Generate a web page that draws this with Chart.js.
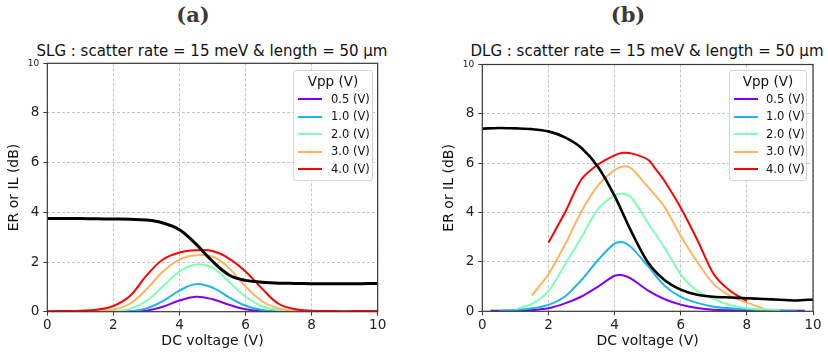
<!DOCTYPE html>
<html><head><meta charset="utf-8">
<script src="https://cdn.jsdelivr.net/npm/chart.js@4.4.1/dist/chart.umd.min.js"></script>
<style>
html,body{margin:0;padding:0;background:#fff;}
#wrap{position:relative;width:828px;height:357px;overflow:hidden;font-family:"DejaVu Sans",sans-serif;}
.panel{position:absolute;top:0;width:414px;height:357px;}
canvas{display:block;}
.plabel{position:absolute;top:2px;font-family:"DejaVu Serif",serif;font-weight:bold;font-size:21px;color:#3a3a3a;transform:translateX(-50%);white-space:nowrap;}
.ptitle{position:absolute;top:42px;font-size:15px;color:#111;transform:translateX(-50%);white-space:nowrap;}
.legend{position:absolute;top:70px;height:111px;background:rgba(255,255,255,0.85);border:1px solid #d4d4d4;border-radius:3px;box-sizing:border-box;color:#111;}
.legend .lt{position:absolute;left:0;right:0;top:2px;text-align:center;font-size:13.5px;line-height:17px;}
.legend .row{position:absolute;left:0;height:17px;font-size:11.5px;line-height:17px;white-space:nowrap;}
.legend .sw{position:absolute;top:7.5px;height:2px;width:24px;}
.legend .tx{position:absolute;top:0;}
</style>
</head><body>
<div id="wrap">
  <div class="plabel" style="left:193px">(a)</div>
  <div class="plabel" style="left:628px">(b)</div>
  <div class="ptitle" style="left:212px">SLG : scatter rate = 15 meV &amp; length = 50 µm</div>
  <div class="ptitle" style="left:647px">DLG : scatter rate = 15 meV &amp; length = 50 µm</div>
  <div class="panel" style="left:0"><canvas id="ca" width="414" height="357"></canvas></div>
  <div class="panel" style="left:414px"><canvas id="cb" width="414" height="357"></canvas></div>
  <div class="legend" id="la" style="left:293px;width:80px"></div>
  <div class="legend" id="lb" style="left:729px;width:78px"></div>
</div>
<script>
// ---------- data ----------
const legendTitle = 'Vpp (V)';
const vppLabels = ['0.5 (V)', '1.0 (V)', '2.0 (V)', '3.0 (V)', '4.0 (V)'];
const vppColors = ['#8000ff', '#1cb4eb', '#80ffb4', '#ffb360', '#ff0000'];
const xTickValues = [0, 2, 4, 6, 8, 10];
const yTickValues = [0, 2, 4, 6, 8, 10];
const xAxisTitle = 'DC voltage (V)';
const yAxisTitle = 'ER or IL (dB)';

// (a) SLG  (all series sampled at the same DC voltages)
const aX      = [0, 0.5, 1, 1.5, 2, 2.5, 3, 3.5, 4, 4.5, 5, 5.5, 6, 6.5, 7, 7.5, 8, 8.5, 9, 9.5, 10];
const aBlackY = [3.75,3.75,3.75,3.74,3.73,3.72,3.69,3.57,3.30,2.72,2.03,1.48,1.26,1.19,1.15,1.14,1.13,1.13,1.13,1.13,1.14];
const aV05Y   = [0,0,0,0,0,0,0.04,0.20,0.45,0.60,0.50,0.28,0.10,0.03,0.01,0,0,0,0,0,0];
const aV10Y   = [0,0,0,0,0,0.02,0.13,0.43,0.85,1.11,0.97,0.58,0.24,0.07,0.02,0,0,0,0,0,0];
const aV20Y   = [0,0,0,0,0.02,0.11,0.43,1.02,1.62,1.90,1.76,1.20,0.60,0.22,0.06,0.02,0.01,0,0,0,0];
const aV30Y   = [0,0,0.01,0.03,0.08,0.32,0.90,1.62,2.10,2.27,2.22,1.75,1.02,0.42,0.13,0.04,0.01,0,0,0,0];
const aV40Y   = [0.02,0.03,0.04,0.08,0.23,0.63,1.45,2.10,2.38,2.47,2.44,2.14,1.62,0.93,0.32,0.10,0.04,0.03,0.02,0.03,0.03];

// (b) DLG
const bBlackX = [0,0.5,1,1.5,2,2.5,3,3.5,4,4.5,5,5.5,6,6.5,7,7.5,8,8.5,9,9.5,10];
const bBlackY = [7.40,7.43,7.41,7.38,7.29,7.05,6.62,5.85,4.68,3.25,2.00,1.28,0.88,0.67,0.59,0.56,0.53,0.50,0.47,0.44,0.48];
const bV05X = [0.25,0.5,1,1.5,2,2.5,3,3.5,4,4.25,4.5,5,5.5,6,6.5,7,7.5,8,9,9.75];
const bV05Y = [0.03,0.02,0.02,0.05,0.12,0.32,0.60,1.00,1.44,1.46,1.32,0.85,0.50,0.27,0.13,0.06,0.04,0.03,0.02,0.02];
const bV10X = [0.5,1,1.5,2,2.5,3,3.5,4,4.25,4.5,5,5.5,6,6.5,7,7.5,8,8.5,9,9.5];
const bV10Y = [0.02,0.05,0.12,0.26,0.60,1.27,2.08,2.74,2.80,2.60,1.85,1.05,0.58,0.34,0.18,0.12,0.08,0.05,0.03,0.02];
const bV20X = [1,1.5,2,2.5,3,3.5,4,4.25,4.5,5,5.5,6,6.5,7,7.5,8,8.5,9];
const bV20Y = [0.08,0.30,0.82,1.90,3.00,4.15,4.70,4.76,4.62,3.60,2.60,1.50,0.82,0.50,0.25,0.12,0.08,0.05];
const bV30X = [1.5,2,2.5,3,3.5,4,4.25,4.5,5,5.5,6,6.5,7,7.5,8,8.5];
const bV30Y = [0.65,1.50,2.70,4.05,5.10,5.72,5.87,5.80,5.05,4.25,3.05,2.00,1.10,0.62,0.35,0.12];
const bV40X = [2,2.5,3,3.5,4,4.25,4.5,5,5.25,5.5,6,6.5,7,7.5,8];
const bV40Y = [2.78,4.00,5.35,5.95,6.32,6.42,6.40,6.15,5.75,5.30,4.20,2.90,1.50,0.82,0.42];

// ---------- helpers ----------
const pts = (xs, ys) => xs.map((x, i) => ({x: x, y: ys[i]}));

function buildDatasets(black, colored, blackWidth, tension) {
  const ds = colored.map((s, i) => ({
    label: vppLabels[i],
    data: pts(s[0], s[1]),
    borderColor: vppColors[i],
    borderWidth: 2,
    pointRadius: 0,
    fill: false,
    order: colored.length - i,
    tension: tension
  }));
  ds.push({
    label: '',
    data: pts(black[0], black[1]),
    borderColor: '#000000',
    borderWidth: blackWidth,
    pointRadius: 0,
    fill: false,
    order: 0,
    tension: tension
  });
  return ds;
}

const framePlugin = {
  id: 'frame',
  afterDatasetsDraw(chart) {
    const a = chart.chartArea, c = chart.ctx;
    c.save();
    c.strokeStyle = '#3a3a3a';
    c.lineWidth = 1.2;
    c.strokeRect(a.left, a.top, a.right - a.left, a.bottom - a.top);
    c.restore();
  }
};

function makeChart(id, datasets, g) {
  const tickFont = {family: 'DejaVu Sans', size: 13.5};
  return new Chart(document.getElementById(id), {
    type: 'line',
    data: {datasets: datasets},
    plugins: [framePlugin],
    options: {
      responsive: false,
      animation: false,
      devicePixelRatio: 1,
      layout: {padding: {left: 0, top: g.top, right: g.right, bottom: 0}},
      plugins: {legend: {display: false}, tooltip: {enabled: false}, title: {display: false}},
      scales: {
        x: {
          type: 'linear', min: 0, max: 10,
          afterBuildTicks: s => { s.ticks = xTickValues.map(v => ({value: v})); },
          afterFit: s => { s.height = g.xh; },
          ticks: {font: tickFont, color: '#222', padding: 2, maxRotation: 0, autoSkip: false},
          grid: {color: '#c4c4c4', lineWidth: 1, drawTicks: true, tickLength: 4, tickColor: '#3a3a3a', tickBorderDash: [], tickWidth: 1},
          border: {display: false, dash: [3, 2]},
          title: {display: true, text: xAxisTitle, color: '#111', font: {family: 'DejaVu Sans', size: 14}, padding: {top: 0, bottom: 7.5}}
        },
        y: {
          type: 'linear', min: 0, max: 10,
          afterBuildTicks: s => { s.ticks = yTickValues.map(v => ({value: v})); },
          afterFit: s => { s.width = g.yw; },
          ticks: {
            font: c => ({family: 'DejaVu Sans', size: (c.tick && c.tick.value === 10) ? 9 : 13.5}),
            color: '#222', padding: 4, autoSkip: false
          },
          grid: {color: '#c4c4c4', lineWidth: 1, drawTicks: true, tickLength: 4, tickColor: '#3a3a3a', tickBorderDash: [], tickWidth: 1},
          border: {display: false, dash: [3, 2]},
          title: {display: true, text: yAxisTitle, color: '#111', font: {family: 'DejaVu Sans', size: 14}, padding: {top: g.yt, bottom: 0}}
        }
      }
    }
  });
}

function buildLegend(elId, chart, swLeft, txLeft) {
  const el = document.getElementById(elId);
  const t = document.createElement('div');
  t.className = 'lt'; t.textContent = legendTitle; el.appendChild(t);
  chart.data.datasets.filter(d => d.label).forEach((d, i) => {
    const r = document.createElement('div');
    r.className = 'row';
    r.style.top = (19.5 + i * 17.5) + 'px';
    r.style.width = '100%';
    const sw = document.createElement('div');
    sw.className = 'sw'; sw.style.left = swLeft + 'px'; sw.style.background = d.borderColor;
    const tx = document.createElement('div');
    tx.className = 'tx'; tx.style.left = txLeft + 'px'; tx.textContent = d.label;
    r.appendChild(sw); r.appendChild(tx); el.appendChild(r);
  });
}

const chartA = makeChart('ca',
  buildDatasets([aX, aBlackY], [[aX, aV05Y], [aX, aV10Y], [aX, aV20Y], [aX, aV30Y], [aX, aV40Y]], 3, 0.4),
  {top: 63.3, right: 36.3, xh: 45.3, yw: 47.3, yt: 5.6});
const chartB = makeChart('cb',
  buildDatasets([bBlackX, bBlackY], [[bV05X, bV05Y], [bV10X, bV10Y], [bV20X, bV20Y], [bV30X, bV30Y], [bV40X, bV40Y]], 2.6, 0.3),
  {top: 64.5, right: 15, xh: 45.7, yw: 68.3, yt: 27.3});
buildLegend('la', chartA, 4, 37);
buildLegend('lb', chartB, 4, 36);
</script>
</body></html>
